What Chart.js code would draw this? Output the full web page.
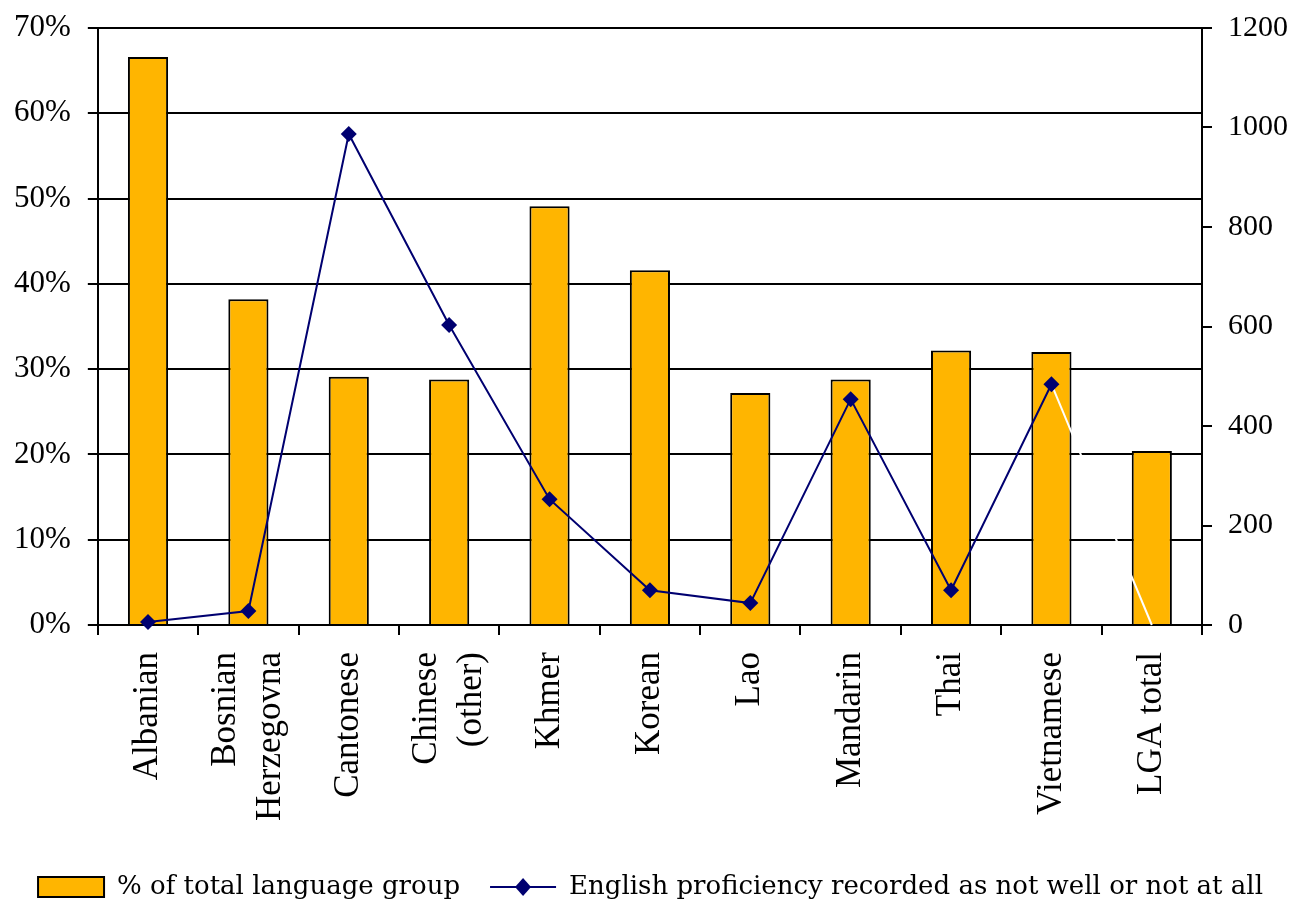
<!DOCTYPE html>
<html><head><meta charset="utf-8">
<script src="https://cdn.jsdelivr.net/npm/chart.js@4/dist/chart.umd.min.js"></script>
<style>html,body{margin:0;padding:0;background:#fff;} #wrap{width:1297px;height:905px;}</style>
</head><body><div id="wrap"><canvas id="c" width="1297" height="905"></canvas></div>
<script>
const categories = ['Albanian', ['Bosnian', 'Herzegovna'], 'Cantonese', ['Chinese', '(other)'], 'Khmer', 'Korean', 'Lao', 'Mandarin', 'Thai', 'Vietnamese', 'LGA total'];
const pctValues = [66.6, 38.2, 29.1, 28.8, 49.1, 41.6, 27.2, 28.8, 32.2, 32.0, 20.4];
const proficiencyValues = [6, 28, 987, 603, 253, 70, 44, 454, 70, 484, 0];
const leftTicks = [0, 10, 20, 30, 40, 50, 60, 70];
const rightTicks = [0, 200, 400, 600, 800, 1000, 1200];
const seriesNames = ['% of total language group', 'English proficiency recorded as not well or not at all'];

const NAVY = '#000070';
const BAR = '#FFB500';

const legendDiamond = {
  id: 'legendDiamond',
  afterDraw(chart) {
    const lg = chart.legend;
    if (!lg || !lg.legendHitBoxes || lg.legendHitBoxes.length < 2) return;
    const hb = lg.legendHitBoxes[1];
    const bw = chart.options.plugins.legend.labels.pointStyleWidth;
    const cx = hb.left + bw / 2, cy = hb.top + hb.height / 2;
    const rx = 8, ry = 9;
    const ctx = chart.ctx;
    ctx.save();
    ctx.fillStyle = NAVY;
    ctx.beginPath();
    ctx.moveTo(cx, cy - ry); ctx.lineTo(cx + rx, cy); ctx.lineTo(cx, cy + ry); ctx.lineTo(cx - rx, cy);
    ctx.closePath(); ctx.fill();
    ctx.restore();
  }
};

// centre multi-line rotated category labels on their tick
const centreLabels = {
  id: 'centreLabels',
  beforeDraw(chart) {
    const items = chart.scales.x.getLabelItems();
    items.forEach(it => {
      if (Array.isArray(it.label) && it.label.length > 1 && !it._adj) {
        it.textOffset -= it.font.lineHeight * (it.label.length - 1) / 2;
        it._adj = true;
      }
    });
  }
};

new Chart(document.getElementById('c'), {
  data: {
    labels: categories,
    datasets: [
      {
        type: 'bar', label: seriesNames[0], data: pctValues, yAxisID: 'y',
        backgroundColor: BAR, borderColor: '#000', borderWidth: 2,
        barPercentage: 0.4, categoryPercentage: 1.0, order: 2
      },
      {
        type: 'line', label: seriesNames[1], data: proficiencyValues, yAxisID: 'y1',
        borderColor: NAVY, backgroundColor: NAVY, borderWidth: 2,
        pointStyle: 'rectRot',
        pointRadius: proficiencyValues.map((v, i) => i === proficiencyValues.length - 1 ? 0 : 8),
        pointBackgroundColor: NAVY, pointBorderColor: NAVY, pointBorderWidth: 0,
        tension: 0, clip: false, order: 1,
        segment: { borderColor: c => c.p1DataIndex === proficiencyValues.length - 1 ? '#ffffff' : undefined }
      }
    ]
  },
  options: {
    responsive: false, animation: false, devicePixelRatio: 1,
    layout: { padding: { left: -3, right: -7, top: 0, bottom: -5 } },
    plugins: {
      tooltip: { enabled: false },
      legend: {
        position: 'bottom',
        labels: {
          usePointStyle: true, pointStyleWidth: 66, boxHeight: 20,
          font: { family: 'DejaVu Serif', size: 26 }, color: '#000', padding: 30,
          sort: (a, b) => a.datasetIndex - b.datasetIndex,
          generateLabels(chart) {
            const items = Chart.defaults.plugins.legend.labels.generateLabels(chart);
            items.forEach(it => {
              if (it.datasetIndex === 0) {
                it.pointStyle = 'rect'; it.fillStyle = BAR; it.strokeStyle = '#000'; it.lineWidth = 2;
              } else {
                it.pointStyle = 'line'; it.strokeStyle = NAVY; it.fillStyle = NAVY; it.lineWidth = 2;
              }
            });
            return items;
          }
        }
      }
    },
    scales: {
      x: {
        afterFit: s => { s.height = 219; },
        grid: { offset: true, drawOnChartArea: false, color: '#000', lineWidth: 2, tickLength: 10, tickColor: '#000' },
        border: { color: '#000', width: 2 },
        ticks: { maxRotation: 90, minRotation: 90, autoSkip: false, color: '#000', padding: 17,
                 font: { family: 'Liberation Serif', size: 35, lineHeight: 1.29 } }
      },
      y: {
        position: 'left', min: 0, max: 70,
        afterBuildTicks: s => { s.ticks = leftTicks.map(v => ({ value: v })); },
        afterFit: s => { s.paddingTop = 28; },
        grid: { color: '#000', lineWidth: 2, tickLength: 10, tickColor: '#000' },
        border: { color: '#000', width: 2 },
        ticks: { color: '#000', padding: 17, callback: v => v + '%',
                 font: { family: 'Liberation Serif', size: 31 } }
      },
      y1: {
        position: 'right', min: 0, max: 1200,
        afterBuildTicks: s => { s.ticks = rightTicks.map(v => ({ value: v })); },
        afterFit: s => { s.paddingTop = 28; },
        grid: { drawOnChartArea: false, color: '#000', lineWidth: 2, tickLength: 10, tickColor: '#000' },
        border: { color: '#000', width: 2 },
        ticks: { color: '#000', padding: 16, callback: v => String(v),
                 font: { family: 'Liberation Serif', size: 30 } }
      }
    }
  },
  plugins: [legendDiamond, centreLabels]
});
</script>
</body></html>
